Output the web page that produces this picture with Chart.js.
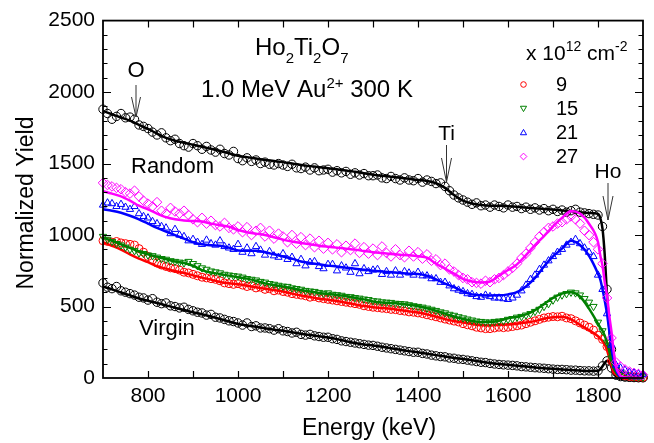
<!DOCTYPE html>
<html>
<head>
<meta charset="utf-8">
<title>Ho2Ti2O7 RBS spectra</title>
<script src="https://cdn.jsdelivr.net/npm/chart.js@4.4.1/dist/chart.umd.min.js"></script>
<style>
  html, body { margin: 0; padding: 0; background: #fff; }
  canvas { display: block; }
</style>
</head>
<body>
<canvas id="rbsChart" width="654" height="443"></canvas>
<script>
// channel energies of the measured points (keV), 10 keV apart
const energy = Array.from({ length: 121 }, (_, i) => 700 + 10 * i);

// measured yields, one row per 100 keV (700-790, 800-890, ... 1800-1890, 1900)
const randomPts = [
  1880, 1850, 1810, 1830, 1850, 1820, 1825, 1810, 1770, 1760,
  1745, 1720, 1700, 1715, 1680, 1660, 1670, 1640, 1625, 1615,
  1640, 1625, 1600, 1620, 1595, 1580, 1600, 1570, 1560, 1585,
  1535, 1520, 1540, 1515, 1525, 1500, 1510, 1495, 1490, 1500,
  1490, 1480, 1495, 1470, 1465, 1475, 1455, 1470, 1450, 1455,
  1460, 1440, 1450, 1435, 1445, 1425, 1435, 1420, 1430, 1415,
  1415, 1420, 1400, 1395, 1410, 1395, 1385, 1400, 1385, 1380,
  1395, 1370, 1385, 1375, 1360, 1365, 1340, 1310, 1280, 1260,
  1245, 1230, 1215, 1225, 1205, 1210, 1195, 1210, 1200, 1190,
  1210, 1195, 1200, 1185, 1195, 1180, 1190, 1175, 1185, 1170,
  1180, 1165, 1175, 1160, 1170, 1180, 1160, 1155, 1150, 1145,
  1140, 1060, 620, 200, 45, 18, 8, 5, 3, 2,
  2
];
const virginPts = [
  665, 635, 625, 640, 610, 600, 590, 580, 565, 560,
  545, 555, 530, 520, 525, 505, 500, 490, 495, 480,
  470, 460, 455, 440, 445, 425, 420, 410, 400, 395,
  385, 370, 385, 360, 365, 350, 350, 345, 335, 345,
  330, 325, 315, 320, 305, 300, 305, 295, 290, 285,
  285, 275, 270, 260, 255, 250, 245, 240, 235, 230,
  228, 222, 215, 210, 205, 200, 195, 190, 185, 180,
  180, 172, 168, 160, 155, 150, 148, 140, 138, 132,
  130, 125, 120, 115, 110, 108, 102, 98, 95, 92,
  90, 88, 85, 80, 78, 75, 72, 70, 68, 65,
  62, 60, 60, 58, 55, 55, 52, 50, 50, 48,
  50, 85, 120, 70, 20, 10, 8, 6, 5, 4,
  3
];
const fluence9Pts = [
  960, 955, 950, 955, 945, 940, 935, 930, 905, 880,
  850, 825, 805, 790, 780, 770, 765, 755, 740, 735,
  725, 715, 705, 700, 695, 690, 680, 665, 660, 655,
  660, 650, 640, 645, 630, 635, 620, 625, 610, 615,
  605, 600, 590, 585, 580, 575, 565, 570, 560, 555,
  550, 545, 540, 535, 530, 525, 520, 515, 505, 500,
  495, 492, 488, 485, 480, 478, 472, 468, 462, 460,
  455, 450, 442, 435, 428, 420, 412, 405, 398, 392,
  380, 372, 365, 355, 350, 345, 345, 350, 355, 352,
  355, 360, 365, 370, 380, 390, 400, 410, 420, 425,
  430, 428, 432, 420, 415, 400, 385, 370, 355, 335,
  300, 270, 220, 120, 50, 25, 15, 10, 8, 6,
  5
];
const fluence15Pts = [
  990, 970, 955, 940, 930, 915, 900, 890, 875, 870,
  860, 855, 845, 835, 830, 820, 815, 810, 805, 815,
  800, 785, 770, 760, 748, 742, 735, 725, 720, 715,
  712, 705, 695, 690, 685, 675, 670, 660, 655, 648,
  642, 640, 630, 625, 620, 612, 608, 605, 598, 592,
  595, 585, 582, 578, 570, 568, 562, 558, 552, 548,
  540, 538, 532, 530, 528, 522, 520, 518, 512, 505,
  500, 495, 488, 480, 472, 462, 455, 445, 438, 428,
  420, 412, 405, 398, 395, 392, 390, 395, 398, 400,
  410, 415, 425, 430, 440, 450, 465, 480, 500, 520,
  545, 565, 580, 590, 600, 595, 580, 555, 530, 500,
  390, 330, 250, 140, 60, 40, 25, 15, 10, 8,
  6
];
const fluence21Pts = [
  1210, 1225, 1220, 1200, 1215, 1195, 1180, 1200, 1150, 1130,
  1120, 1095, 1080, 1060, 1050, 1010, 1040, 1000, 990, 960,
  970, 950, 935, 965, 940, 930, 960, 920, 910, 900,
  935, 880, 910, 870, 920, 895, 860, 885, 855, 845,
  870, 830, 845, 800, 830, 785, 810, 815, 780, 765,
  795, 795, 750, 785, 770, 740, 800, 730, 765, 745,
  755, 760, 725, 745, 720, 750, 720, 745, 735, 720,
  740, 715, 715, 695, 695, 670, 670, 645, 625, 615,
  605, 590, 585, 570, 565, 580, 570, 560, 560, 555,
  550, 560, 580, 610, 650, 690, 720, 760, 790, 820,
  850, 880, 900, 930, 950, 970, 940, 910, 880, 850,
  720, 620, 450, 230, 90, 70, 55, 40, 35, 30,
  25
];
const fluence27Pts = [
  1365, 1350, 1340, 1330, 1320, 1300, 1290, 1310, 1270, 1240,
  1220, 1200, 1230, 1170, 1150, 1190, 1165, 1150, 1170, 1140,
  1110, 1090, 1120, 1080, 1100, 1070, 1060, 1085, 1050, 1040,
  1060, 1020, 1055, 1000, 1030, 1050, 990, 1030, 975, 1010,
  990, 950, 1000, 940, 985, 930, 975, 915, 960, 905,
  945, 900, 935, 880, 925, 895, 940, 875, 915, 870,
  905, 860, 920, 875, 850, 900, 860, 845, 890, 850,
  880, 835, 865, 820, 830, 790, 800, 760, 745, 720,
  700, 690, 670, 665, 660, 680, 670, 690, 700, 720,
  745, 770, 800, 840, 870, 910, 950, 990, 1020, 1050,
  1060, 1080, 1090, 1110, 1130, 1110, 1080, 1030, 1000, 950,
  900, 800, 560, 280, 110, 80, 60, 45, 35, 28,
  22
];

// simulated (fitted) spectra, finer steps across the Ho edge
const fitEnergy = [
  700, 720, 740, 760, 780, 800, 820, 840, 860, 880,
  900, 920, 940, 960, 980, 1000, 1020, 1040, 1060, 1080,
  1100, 1120, 1140, 1160, 1180, 1200, 1220, 1240, 1260, 1280,
  1300, 1320, 1340, 1360, 1380, 1400, 1420, 1440, 1460, 1480,
  1500, 1520, 1540, 1560, 1580, 1600, 1620, 1640, 1660, 1680,
  1700, 1720, 1740, 1760, 1780, 1800,
  1805, 1810, 1815, 1820, 1825, 1830, 1835, 1840, 1845, 1850,
  1860, 1880, 1900
];
const randomFit = [
  1868, 1845, 1822, 1800, 1770, 1742, 1710, 1680, 1660, 1645,
  1632, 1618, 1603, 1588, 1572, 1555, 1545, 1535, 1525, 1518,
  1510, 1500, 1490, 1482, 1475, 1468, 1460, 1452, 1442, 1432,
  1422, 1415, 1408, 1400, 1393, 1385, 1378, 1362, 1330, 1280,
  1240, 1220, 1210, 1205, 1205, 1202, 1198, 1192, 1188, 1182,
  1178, 1172, 1168, 1160, 1155, 1148,
  1120, 1045, 860, 580, 350, 160, 70, 30, 12, 5,
  2, 0, 0
];
const virginFit = [
  640, 620, 598, 578, 556, 540, 525, 508, 492, 476,
  460, 446, 430, 413, 395, 378, 368, 358, 348, 338,
  330, 320, 310, 300, 292, 283, 272, 258, 245, 235,
  227, 218, 208, 198, 188, 180, 170, 160, 150, 140,
  133, 124, 114, 105, 98, 92, 86, 80, 74, 69,
  64, 60, 56, 52, 49, 50,
  60, 82, 105, 120, 110, 75, 30, 12, 5, 2,
  0, 0, 0
];
const fluence9Fit = [
  950, 925, 898, 865, 835, 810, 782, 765, 748, 735,
  718, 702, 688, 672, 662, 655, 645, 635, 625, 615,
  605, 590, 577, 566, 555, 548, 538, 527, 515, 503,
  495, 490, 484, 475, 466, 458, 445, 428, 412, 398,
  388, 378, 369, 368, 370, 374, 380, 388, 398, 415,
  425, 428, 410, 372, 335, 292,
  275, 258, 235, 195, 140, 85, 45, 25, 10, 5,
  2, 0, 0
];
const fluence15Fit = [
  983, 960, 935, 910, 885, 865, 848, 832, 815, 805,
  785, 755, 738, 728, 716, 705, 695, 680, 662, 650,
  640, 628, 615, 605, 595, 589, 580, 572, 562, 550,
  535, 528, 525, 520, 512, 502, 488, 470, 450, 430,
  415, 400, 392, 392, 400, 418, 427, 445, 475, 517,
  560, 590, 600, 570, 485, 380,
  352, 330, 295, 250, 190, 120, 70, 40, 18, 8,
  3, 0, 0
];
const fluence21Fit = [
  1180, 1170, 1156, 1135, 1110, 1080, 1050, 1025, 1000, 975,
  950, 935, 928, 925, 912, 892, 890, 890, 880, 865,
  850, 835, 815, 805, 795, 786, 780, 772, 765, 758,
  751, 745, 740, 735, 730, 728, 715, 690, 660, 635,
  605, 585, 578, 577, 578, 585, 600, 640, 700, 780,
  850, 905, 960, 930, 855, 730,
  690, 620, 540, 450, 330, 210, 120, 60, 25, 10,
  3, 0, 0
];
const fluence27Fit = [
  1307, 1290, 1270, 1240, 1205, 1180, 1150, 1125, 1110, 1102,
  1098, 1095, 1080, 1068, 1058, 1035, 1020, 1010, 1000, 985,
  968, 955, 945, 935, 925, 918, 912, 905, 898, 888,
  880, 874, 868, 862, 858, 852, 842, 800, 765, 730,
  693, 675, 668, 675, 715, 755, 795, 860, 930, 993,
  1060, 1120, 1168, 1150, 1079, 951,
  858, 786, 670, 577, 438, 322, 183, 79, 40, 15,
  5, 0, 0
];

// axis tick labels
const xTickValues = [800, 1000, 1200, 1400, 1600, 1800];
const yTickValues = [0, 500, 1000, 1500, 2000, 2500];

// legend
const fluenceLabels = ['9', '15', '21', '27'];

const FONT = '"Liberation Sans", Arial, Helvetica, sans-serif';

/**
 * Pair an x array with a y array as {x, y} points
 */
function toPoints(xs, ys) {
    return ys.map((v, i) => ({ x: xs[i], y: v }));
}

const series = [
    { name: 'Random', pts: randomPts, fit: randomFit, color: '#000000', style: 'circle', rotation: 0, radius: 4.2 },
    { name: 'Virgin', pts: virginPts, fit: virginFit, color: '#000000', style: 'circle', rotation: 0, radius: 4.2 },
    { name: '9', pts: fluence9Pts, fit: fluence9Fit, color: '#ff0000', style: 'circle', rotation: 0, radius: 4 },
    { name: '15', pts: fluence15Pts, fit: fluence15Fit, color: '#008000', style: 'triangle', rotation: 180, radius: 4.2 },
    { name: '21', pts: fluence21Pts, fit: fluence21Fit, color: '#0000ff', style: 'triangle', rotation: 0, radius: 4.2 },
    { name: '27', pts: fluence27Pts, fit: fluence27Fit, color: '#ff00ff', style: 'rectRot', rotation: 0, radius: 4.8 },
];

// later series sit on top; within a series the fit line is over its points
const datasets = [];
series.forEach((s, i) => {
    const base = (series.length - i) * 2;
    datasets.push({
        label: s.name,
        data: toPoints(energy, s.pts),
        showLine: false,
        pointStyle: s.style,
        pointRotation: s.rotation,
        pointRadius: s.radius,
        pointBorderWidth: 1,
        pointBorderColor: s.color,
        pointBackgroundColor: 'rgba(0,0,0,0)',
        clip: false,
        order: base,
    });
    datasets.push({
        label: s.name + ' fit',
        data: toPoints(fitEnergy, s.fit),
        showLine: true,
        borderColor: s.color,
        borderWidth: 2.5,
        pointRadius: 0,
        fill: false,
        cubicInterpolationMode: 'monotone',
        clip: false,
        order: base - 1,
    });
});

/**
 * Draw a small hollow marker (for the legend)
 */
function drawMarker(ctx, style, rotation, x, y, r, color) {
    ctx.save();
    ctx.strokeStyle = color;
    ctx.lineWidth = 1;
    ctx.beginPath();
    if (style === 'circle') {
        ctx.arc(x, y, r, 0, Math.PI * 2);
    } else if (style === 'triangle') {
        const s = rotation === 180 ? -1 : 1;
        ctx.moveTo(x, y - s * r * 1.1);
        ctx.lineTo(x + r * 1.1, y + s * r * 0.8);
        ctx.lineTo(x - r * 1.1, y + s * r * 0.8);
        ctx.closePath();
    } else {
        ctx.moveTo(x, y - r * 1.2);
        ctx.lineTo(x + r * 1.2, y);
        ctx.lineTo(x, y + r * 1.2);
        ctx.lineTo(x - r * 1.2, y);
        ctx.closePath();
    }
    ctx.stroke();
    ctx.restore();
}

/**
 * Text with sub/superscripts: parts = [[text, size, dy], ...]
 */
function richText(ctx, parts, x, y) {
    for (const [text, size, dy] of parts) {
        ctx.font = `${size}px ${FONT}`;
        ctx.fillText(text, x, y + (dy || 0));
        x += ctx.measureText(text).width;
    }
}

/**
 * Down arrow with an open V head
 */
function downArrow(ctx, x, y0, y1, headLen, halfW) {
    ctx.beginPath();
    ctx.moveTo(x, y0);
    ctx.lineTo(x, y1);
    ctx.moveTo(x - halfW, y1 - headLen);
    ctx.lineTo(x, y1);
    ctx.lineTo(x + halfW, y1 - headLen);
    ctx.stroke();
}

const decorations = {
    id: 'decorations',
    afterDraw(chart) {
        const { ctx, chartArea: a } = chart;
        const xs = chart.scales.x;
        const ys = chart.scales.y;
        ctx.save();

        // inward tick marks on all four sides
        ctx.strokeStyle = '#000';
        ctx.lineWidth = 1.2;
        ctx.beginPath();
        for (let e = 800; e < 1900; e += 100) {
            const px = Math.round(xs.getPixelForValue(e)) + 0.5;
            ctx.moveTo(px, a.bottom); ctx.lineTo(px, a.bottom - 7);
            ctx.moveTo(px, a.top); ctx.lineTo(px, a.top + 7);
        }
        for (let v = 100; v < 2500; v += 100) {
            const py = Math.round(ys.getPixelForValue(v)) + 0.5;
            const len = v % 500 === 0 ? 8 : 4.5;
            ctx.moveTo(a.left, py); ctx.lineTo(a.left + len, py);
            ctx.moveTo(a.right, py); ctx.lineTo(a.right - len, py);
        }
        ctx.stroke();

        // frame
        ctx.lineWidth = 1.8;
        ctx.strokeRect(a.left, a.top, a.right - a.left, a.bottom - a.top);

        ctx.fillStyle = '#000';
        ctx.textBaseline = 'alphabetic';
        ctx.textAlign = 'left';

        // title
        richText(ctx, [['Ho', 24], ['2', 15, 8], ['Ti', 24], ['2', 15, 8], ['O', 24], ['7', 15, 8]], 255, 55);
        richText(ctx, [['1.0 MeV Au', 24], ['2+', 15, -9], [' 300 K', 24]], 201, 97);

        // spectrum labels
        ctx.font = `22px ${FONT}`;
        ctx.fillText('Random', 131, 173);
        ctx.fillText('Virgin', 139, 335);

        // surface edge markers
        ctx.textAlign = 'center';
        ctx.fillText('O', 136, 77);
        ctx.font = `21px ${FONT}`;
        ctx.fillText('Ti', 446.5, 140);
        ctx.fillText('Ho', 608, 178);
        ctx.strokeStyle = '#333';
        ctx.lineWidth = 1;
        downArrow(ctx, 136, 85, 117, 20, 4.5);
        downArrow(ctx, 446.5, 145, 182, 24, 5);
        downArrow(ctx, 608, 183, 220, 24, 5);

        // legend
        ctx.textAlign = 'left';
        richText(ctx, [['x 10', 21], ['12', 14, -9], [' cm', 21], ['-2', 14, -9]], 526, 60);
        series.slice(2).forEach((s, i) => {
            const yy = 84.5 + i * 24;
            drawMarker(ctx, s.style, s.rotation, 523.5, yy, 2.8, s.color);
            ctx.fillStyle = '#000';
            ctx.font = `20px ${FONT}`;
            ctx.fillText(fluenceLabels[i], 556, yy + 6.5);
        });

        // axis titles
        ctx.font = `23px ${FONT}`;
        ctx.textAlign = 'center';
        ctx.fillText('Energy (keV)', 369, 435);
        ctx.save();
        ctx.translate(33, 203);
        ctx.rotate(-Math.PI / 2);
        ctx.fillText('Normalized Yield', 0, 0);
        ctx.restore();

        ctx.restore();
    }
};

Chart.defaults.font.family = FONT;
Chart.defaults.color = '#000';

new Chart(document.getElementById('rbsChart'), {
    type: 'scatter',
    data: { datasets },
    options: {
        responsive: false,
        animation: false,
        devicePixelRatio: 1,
        layout: { padding: { top: 17, right: 11, left: 0, bottom: 0 } },
        plugins: {
            legend: { display: false },
            tooltip: { enabled: false },
        },
        scales: {
            x: {
                type: 'linear',
                min: 700,
                max: 1900,
                afterBuildTicks: (scale) => { scale.ticks = xTickValues.map(v => ({ value: v })); },
                afterFit: (scale) => { scale.height = 65; },
                ticks: { font: { size: 21 }, color: '#000', padding: 6, maxRotation: 0, autoSkip: false, callback: (v) => String(v) },
                grid: { display: false, drawTicks: false },
                border: { display: false },
            },
            y: {
                type: 'linear',
                min: 0,
                max: 2500,
                afterBuildTicks: (scale) => { scale.ticks = yTickValues.map(v => ({ value: v })); },
                afterFit: (scale) => { scale.width = 103; },
                ticks: { font: { size: 21 }, color: '#000', padding: 8, callback: (v) => String(v) },
                grid: { display: false, drawTicks: false },
                border: { display: false },
            },
        },
    },
    plugins: [decorations],
});
</script>
</body>
</html>
